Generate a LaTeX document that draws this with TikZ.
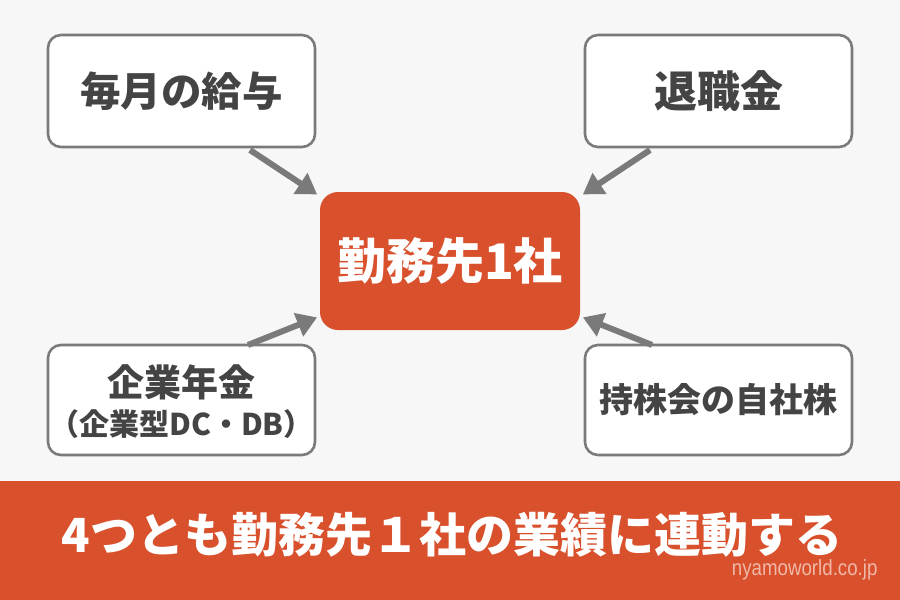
\documentclass[tikz,border=0pt]{standalone}
\usepackage{fontspec}
\setmainfont{Noto Sans CJK JP}
\newfontfamily\wmfont[FakeStretch=0.85]{Liberation Sans}
\usetikzlibrary{arrows.meta}
\definecolor{bg}{HTML}{F7F7F7}
\definecolor{orng}{HTML}{D9512C}
\definecolor{frame}{HTML}{7A7A7A}
\definecolor{txt}{HTML}{444444}
\definecolor{wm}{HTML}{F0B8A8}
\tikzset{
  srcbox/.style={draw=frame, line width=2.6pt, fill=white, rounded corners=13pt, minimum width=267pt, minimum height=112pt, inner sep=0pt, text=txt, font=\bfseries\fontsize{40.5}{46}\selectfont, align=center},
  hub/.style={fill=orng, rounded corners=18pt, minimum width=260pt, minimum height=138pt, inner sep=0pt, text=white, font=\bfseries\fontsize{49}{54}\selectfont},
  conn/.style={draw=frame, line width=6pt, -{Triangle[length=20pt,width=24pt]}, shorten >=1pt},
}
\begin{document}
\begin{tikzpicture}[x=1pt,y=-1pt]
\useasboundingbox (0,0) rectangle (900,600);
\fill[bg] (0,0) rectangle (900,600);
\node[srcbox] (tl) at (181.5,91) {毎月の給与};
\node[srcbox, font=\bfseries\fontsize{43}{48}\selectfont] (tr) at (718.5,91) {退職金};
\node[srcbox, minimum height=110pt] (bl) at (181.5,400) {};
\node[text=txt, font=\bfseries\fontsize{37}{42}\selectfont] (bl1) at (181.5,382) {企業年金};
\node[text=txt, font=\bfseries\fontsize{30}{36}\selectfont] (bl2) at (181.5,424) {（企業型DC・DB）};
\node[srcbox, minimum height=110pt, font=\bfseries\fontsize{34}{40}\selectfont] (br) at (718.5,400) {持株会の自社株};
\node[hub] (hub) at (450,261) {勤務先1社};
\coordinate (tls) at (250,150);
\coordinate (tlt) at (318,195);
\coordinate (trs) at (650,150);
\coordinate (trt) at (582,195);
\coordinate (bls) at (248,345);
\coordinate (blt) at (318,317);
\coordinate (brs) at (652,345);
\coordinate (brt) at (582,317);
\draw[conn] (tls) -- (tlt);
\draw[conn] (trs) -- (trt);
\draw[conn] (bls) -- (blt);
\draw[conn] (brs) -- (brt);
\fill[orng] (0,481) rectangle (900,600);
\node[text=white, font=\bfseries\fontsize{47}{52}\selectfont] (banner) at (452,535) {4つとも勤務先１社の業績に連動する};
\node[text=wm, font=\wmfont\fontsize{22}{26}\selectfont, anchor=east] (wmark) at (881,570) {nyamoworld.co.jp};
\end{tikzpicture}
\end{document}
